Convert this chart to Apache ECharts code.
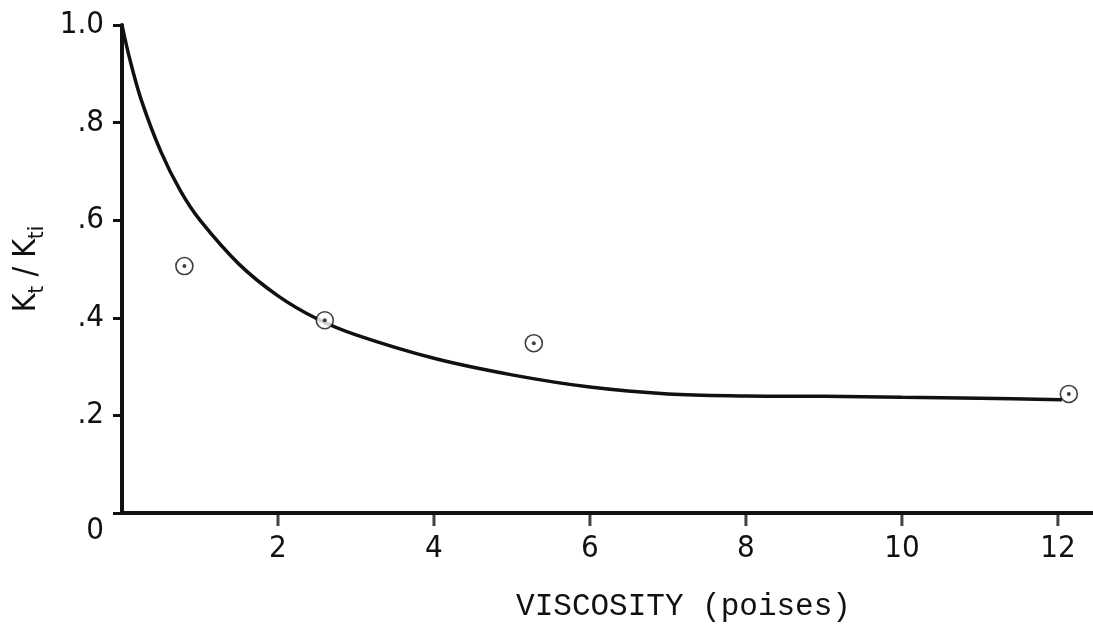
<!DOCTYPE html>
<html>
<head>
<meta charset="utf-8">
<script src="https://cdn.jsdelivr.net/npm/echarts@6/dist/echarts.min.js"></script>
<style>
  html, body { margin: 0; padding: 0; background: #fff; }
  #chart { width: 1093px; height: 628px; }
</style>
</head>
<body>
<div id="chart"></div>
<script>
// measured points (circles)
const pointX = [0.80, 2.60, 5.28, 12.14];
const pointY = [0.506, 0.395, 0.348, 0.244];

// fitted curve
const curveX = [0, 0.1, 0.25, 0.5, 0.75, 1.0, 1.5, 2.0, 2.5, 3.0, 4.0, 5.0, 6.0, 7.0, 8.0, 9.0, 10.0, 11.0, 12.05];
const curveY = [1.0, 0.93, 0.845, 0.74, 0.66, 0.60, 0.51, 0.445, 0.398, 0.365, 0.317, 0.283, 0.258, 0.244, 0.240, 0.239, 0.237, 0.235, 0.232];

const xTicks = [2, 4, 6, 8, 10, 12];
const yTickLabels = { 0: "0", 0.2: ".2", 0.4: ".4", 0.6: ".6", 0.8: ".8", 1: "1.0" };

const ink = "#111";
const font = "'DejaVu Sans Condensed', 'Liberation Sans Narrow', 'DejaVu Sans', sans-serif";

const chart = echarts.init(document.getElementById("chart"));

chart.setOption({
  backgroundColor: "#fff",
  animation: false,
  grid: { left: 122, top: 25, right: 0, bottom: 115, containLabel: false },
  xAxis: {
    type: "value",
    min: 0,
    max: 12.45,
    interval: 2,
    name: "VISCOSITY (poises)",
    nameLocation: "middle",
    nameGap: 78,
    nameTextStyle: {
      fontFamily: "'Liberation Mono', 'DejaVu Sans Mono', monospace",
      fontSize: 31,
      color: ink,
      padding: [0, 0, 0, 152],
    },
    axisLine: { show: true, onZero: false, lineStyle: { color: ink, width: 4 } },
    // ticks are drawn by the "ticks" series below (only at 2..12)
    axisTick: { show: false },
    axisLabel: {
      show: true,
      margin: 20,
      fontFamily: font,
      fontSize: 31,
      color: ink,
      showMaxLabel: false,
      formatter: (v) => (xTicks.includes(v) ? String(v) : ""),
    },
    splitLine: { show: false },
  },
  yAxis: {
    type: "value",
    min: 0,
    max: 1,
    interval: 0.2,
    name: "{m|K}{s|t}{m| / K}{s|ti}",
    nameLocation: "middle",
    nameRotate: 90,
    nameGap: 72,
    nameTextStyle: {
      color: ink,
      rich: {
        m: { fontFamily: font, fontSize: 32, lineHeight: 32, verticalAlign: "top", color: ink },
        s: { fontFamily: font, fontSize: 22, lineHeight: 22, verticalAlign: "top", padding: [16, 0, 0, 0], color: ink },
      },
    },
    axisLine: { show: true, onZero: false, lineStyle: { color: ink, width: 4 } },
    axisTick: { show: true, inside: false, length: 9, lineStyle: { color: ink, width: 3 } },
    axisLabel: {
      margin: 18,
      fontFamily: font,
      fontSize: 31,
      color: ink,
      formatter: (v) => {
        const key = Math.round(v * 10) / 10;
        if (key === 0) return "{z|0}";
        return yTickLabels[key] || "";
      },
      rich: {
        z: { fontFamily: font, fontSize: 31, color: ink, padding: [36, 0, 0, 0] },
      },
    },
    splitLine: { show: false },
  },
  series: [
    {
      type: "line",
      data: curveX.map((x, i) => [x, curveY[i]]),
      smooth: 0.35,
      showSymbol: false,
      lineStyle: { color: ink, width: 3.5 },
      z: 2,
    },
    {
      type: "scatter",
      data: pointX.map((x, i) => [x, pointY[i]]),
      symbol: "circle",
      symbolSize: 17,
      itemStyle: { color: "#fff", borderColor: ink, borderWidth: 1.6 },
      z: 3,
    },
    {
      type: "scatter",
      data: pointX.map((x, i) => [x, pointY[i]]),
      symbol: "circle",
      symbolSize: 4,
      itemStyle: { color: ink },
      z: 4,
    },
    {
      name: "ticks",
      type: "scatter",
      data: xTicks.map((v) => [v, 0]),
      symbol: "rect",
      symbolSize: [3, 12],
      symbolOffset: [0, 7],
      clip: false,
      silent: true,
      itemStyle: { color: ink },
      z: 5,
    },
  ],
});
</script>
</body>
</html>
